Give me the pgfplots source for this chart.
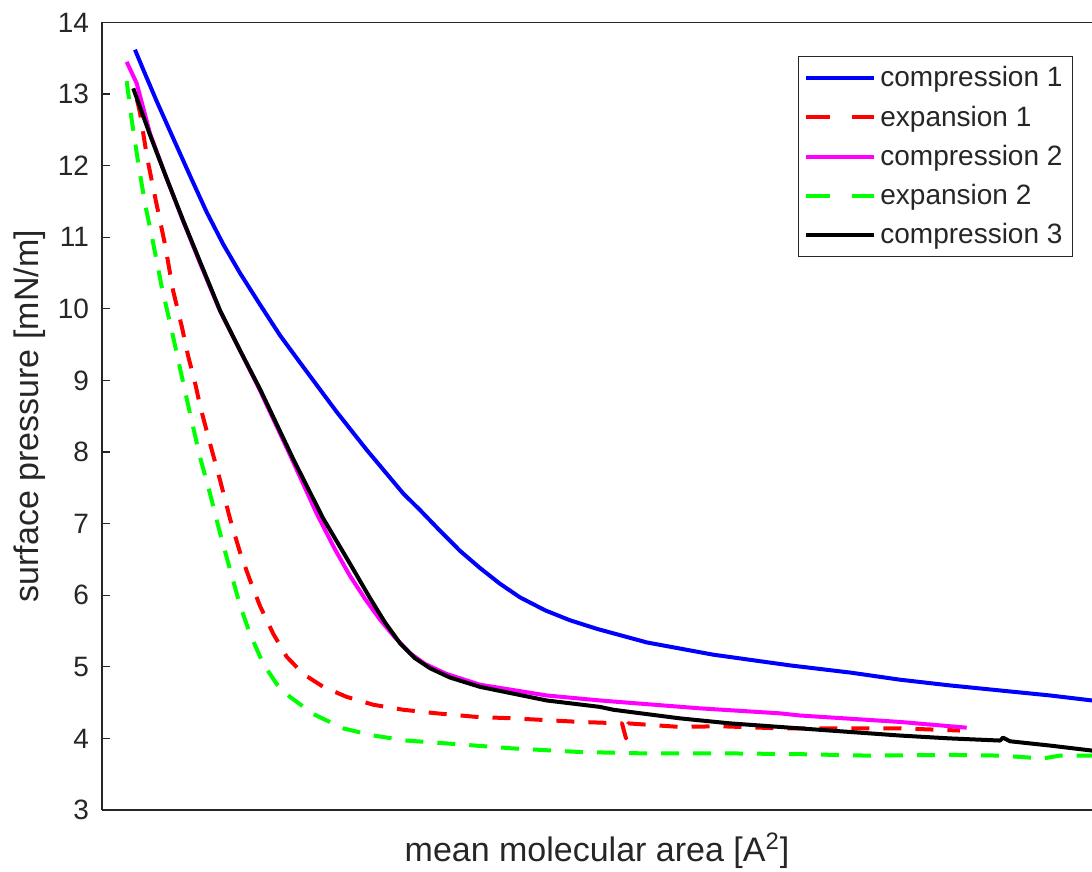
\documentclass[border=0pt]{standalone}
\usepackage{fontspec}
\setmainfont{Liberation Sans}
\usepackage{pgfplots}
\pgfplotsset{compat=1.18}
\definecolor{axgray}{gray}{0.15}
\begin{document}
\begin{tikzpicture}
\begin{axis}[
  name=ax,
  scale only axis,
  width=495pt, height=393.75pt,
  xmin=102, xmax=1092, ymin=3, ymax=14,
  axis y line*=left,
  axis x line*=box,
  xtick=\empty,
  ytick={3,4,5,6,7,8,9,10,11,12,13,14},
  tick align=inside,
  major tick length=4pt,
  axis line style={axgray, line width=0.6pt},
  tick style={axgray, line width=0.6pt},
  /pgf/number format/assume math mode=true,
  yticklabel style={font=\fontsize{14}{16}\selectfont, color=axgray, xshift=-3pt},
  ylabel={surface pressure [mN/m]},
  xlabel={mean molecular area [A\textsuperscript{2}]},
  every axis y label/.style={at={(axis description cs:-0.0727,0.5)}, rotate=90, anchor=center, font=\fontsize{17}{20}\selectfont, color=axgray},
  every axis x label/.style={at={(axis description cs:0.5,-0.066)}, anchor=base, font=\fontsize{17}{20}\selectfont, color=axgray},
  legend style={at={(axis description cs:0.9808,0.9575)}, anchor=north east,
    draw=axgray, line width=0.5pt, font=\fontsize{14}{16}\selectfont, text=black!85,
    inner xsep=3pt, inner ysep=4pt, row sep=6pt,
    nodes={inner xsep=2pt, inner ysep=1pt}},
  legend cell align=left,
  legend image code/.code={\draw[#1] (0pt,0pt) -- (34pt,0pt);},
  every axis plot/.append style={line width=2pt, line join=round},
]
% compression 1
\addplot[color={rgb,1:red,0;green,0;blue,1}] coordinates {
(135,13.62) (143.3,13.34) (156.7,12.90) (173.3,12.38) (190,11.86) (206.7,11.35)
(223.3,10.90) (240,10.50) (260,10.06) (280,9.63) (300,9.25) (336.7,8.56)
(366.7,8.03) (403.3,7.42) (420,7.19) (440,6.90) (460,6.62) (480,6.38)
(500,6.16) (520,5.97) (545,5.79) (570,5.65) (597,5.53) (647,5.34)
(713,5.17) (790,5.02) (850,4.92) (900,4.82) (950,4.74) (1000,4.67)
(1050,4.60) (1092,4.53)
};
\addlegendentry{compression 1}
% expansion 1
\addplot[color={rgb,1:red,1;green,0;blue,0}, dash pattern=on 9pt off 7pt,
  legend image post style={dash pattern=on 12pt off 11pt}] coordinates {
(137,12.92) (140,12.74) (147,12.12) (156,11.50) (165,10.90) (173,10.26)
(182,9.74) (188,9.35) (196,8.91) (200,8.65) (210,8.12) (220,7.61)
(230,7.07) (240,6.60) (250,6.21) (260,5.85) (273.3,5.46) (286.7,5.14)
(303.3,4.90) (323.3,4.72) (346.7,4.58) (373.3,4.47) (403.3,4.40) (436.7,4.35)
(476.7,4.30) (513.3,4.28) (580,4.23) (622,4.21) (626,4.00) (628,4.21)
(680,4.16) (720,4.17) (780,4.14) (840,4.14) (900,4.14) (960,4.11)
};
\addlegendentry{expansion 1}
% compression 2
\addplot[color={rgb,1:red,1;green,0;blue,1}] coordinates {
(126.7,13.45) (136.7,13.15) (150,12.45) (166.7,11.82) (183.3,11.22) (200,10.64)
(220,9.97) (240,9.42) (260,8.86) (290,7.96) (316.7,7.14) (335,6.64)
(350,6.27) (365,5.95) (380,5.66) (395,5.41) (410,5.19) (425,5.04)
(446.7,4.90) (480,4.75) (546.7,4.60) (600,4.53) (700,4.42) (780,4.35)
(800,4.32) (900,4.23) (966.7,4.15)
};
\addlegendentry{compression 2}
% expansion 2
\addplot[color={rgb,1:red,0;green,1;blue,0}, dash pattern=on 9pt off 7pt,
  legend image post style={dash pattern=on 12pt off 11pt}] coordinates {
(126.7,13.18) (131.7,12.64) (138.3,12.03) (145,11.47) (153.3,10.91) (161.7,10.31)
(171.7,9.70) (180,9.17) (190,8.54) (200,7.93) (210,7.42) (220,6.87)
(230,6.36) (240,5.86) (250,5.46) (263.3,5.04) (276.7,4.76) (290,4.58)
(313.3,4.34) (343.3,4.14) (373.3,4.04) (406.7,3.97) (446.7,3.93) (513.3,3.86)
(580,3.81) (646.7,3.79) (733.3,3.79) (800,3.78) (866.7,3.76) (950,3.77)
(1000,3.76) (1043,3.72) (1060,3.76) (1092,3.76)
};
\addlegendentry{expansion 2}
% compression 3
\addplot[color=black] coordinates {
(133.3,13.08) (150,12.43) (166.7,11.82) (183.3,11.23) (200,10.66) (220,9.98)
(240,9.42) (260,8.88) (293.3,7.90) (323.3,7.07) (350,6.44) (370,5.96)
(385,5.62) (400,5.33) (415,5.12) (430,4.98) (450,4.85) (480,4.72)
(546.7,4.53) (600,4.44) (613.3,4.40) (680,4.28) (730,4.21) (780,4.16)
(850,4.09) (900,4.04) (950,4.00) (1000,3.97) (1003,4.01) (1010,3.96)
(1050,3.90) (1092,3.83)
};
\addlegendentry{compression 3}
\end{axis}
\pgfresetboundingbox
\path[use as bounding box] (ax.south west) ++(-51pt,-31pt) rectangle ++(546pt,436pt);
\end{tikzpicture}
\end{document}
